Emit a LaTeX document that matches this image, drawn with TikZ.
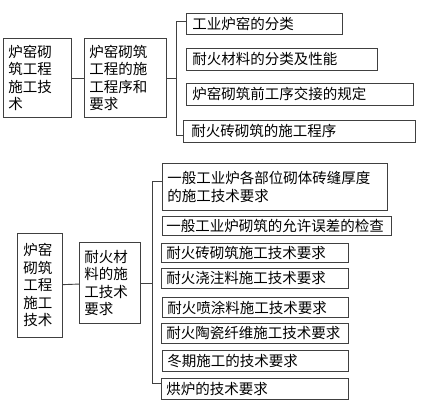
\documentclass[tikz,border=0pt]{standalone}
\usepackage{fontspec}
\setmainfont{Noto Sans CJK SC}
\begin{document}
\begin{tikzpicture}[x=1pt,y=-1pt,
  bx/.style={draw=black!75, line width=0.9pt, anchor=north west, inner xsep=5pt, inner ysep=0pt,
    align=left, text=black, font=\fontsize{14.5pt}{17.5pt}\selectfont},
  ln/.style={draw=black!75, line width=0.9pt}]
\useasboundingbox (0,0) rectangle (434,410);
% top section
\node[bx, text width=58pt, minimum height=79pt] (A) at (3,38) {炉窑砌\\筑工程\\施工技\\术};
\node[bx, text width=72pt, minimum height=79pt] (B) at (84,38) {炉窑砌筑\\工程的施\\工程序和\\要求};
\node[bx, inner xsep=6pt, text width=144pt, minimum height=21pt] (b1) at (186,13) {工业炉窑的分类};
\node[bx, inner xsep=6pt, text width=179pt, minimum height=22pt] (b2) at (186,48) {耐火材料的分类及性能};
\node[bx, inner xsep=6pt, text width=215pt, minimum height=22pt] (b3) at (186,83) {炉窑砌筑前工序交接的规定};
\node[bx, inner xsep=8pt, text width=216pt, minimum height=22pt] (b4) at (183,120) {耐火砖砌筑的施工程序};
\draw[ln] (A) -- (B);
\draw[ln] (B.east) -- ++(10,0) |- ([yshift=2.5pt]b1.west);
\draw[ln] (B.east) -- ++(10,0) |- ([yshift=-4pt]b4.west);
% bottom section
\node[bx, inner xsep=6pt, text width=33pt, minimum height=104pt] (C) at (17,233) {炉窑\\砌筑\\工程\\施工\\技术};
\node[bx, text width=51pt, minimum height=81pt] (D) at (79,242) {耐火材\\料的施\\工技术\\要求};
\node[bx, text width=215pt, minimum height=47pt] (e1) at (162,163) {一般工业炉各部位砌体砖缝厚度\\的施工技术要求};
\node[bx, inner xsep=4pt, text width=221pt, minimum height=19pt] (e2) at (162,216) {一般工业炉砌筑的允许误差的检查};
\node[bx, text width=177pt, minimum height=19pt] (e3) at (161,243) {耐火砖砌筑施工技术要求};
\node[bx, text width=177pt, minimum height=20pt] (e4) at (161,268) {耐火浇注料施工技术要求};
\node[bx, text width=176pt, minimum height=20pt] (e5) at (162,297) {耐火喷涂料施工技术要求};
\node[bx, text width=177pt, minimum height=20pt] (e6) at (161,323) {耐火陶瓷纤维施工技术要求};
\node[bx, text width=176pt, minimum height=21pt] (e7) at (162,350) {冬期施工的技术要求};
\node[bx, text width=177pt, minimum height=21pt] (e8) at (161,378) {烘炉的技术要求};
\draw[ln] (C) -- (D);
\draw[ln] (D.east) -- ++(12,0) |- ([yshift=5.5pt]e1.west);
\draw[ln] (D.east) -- ++(12,0) |- ([yshift=6pt]e8.west);
\end{tikzpicture}
\end{document}
